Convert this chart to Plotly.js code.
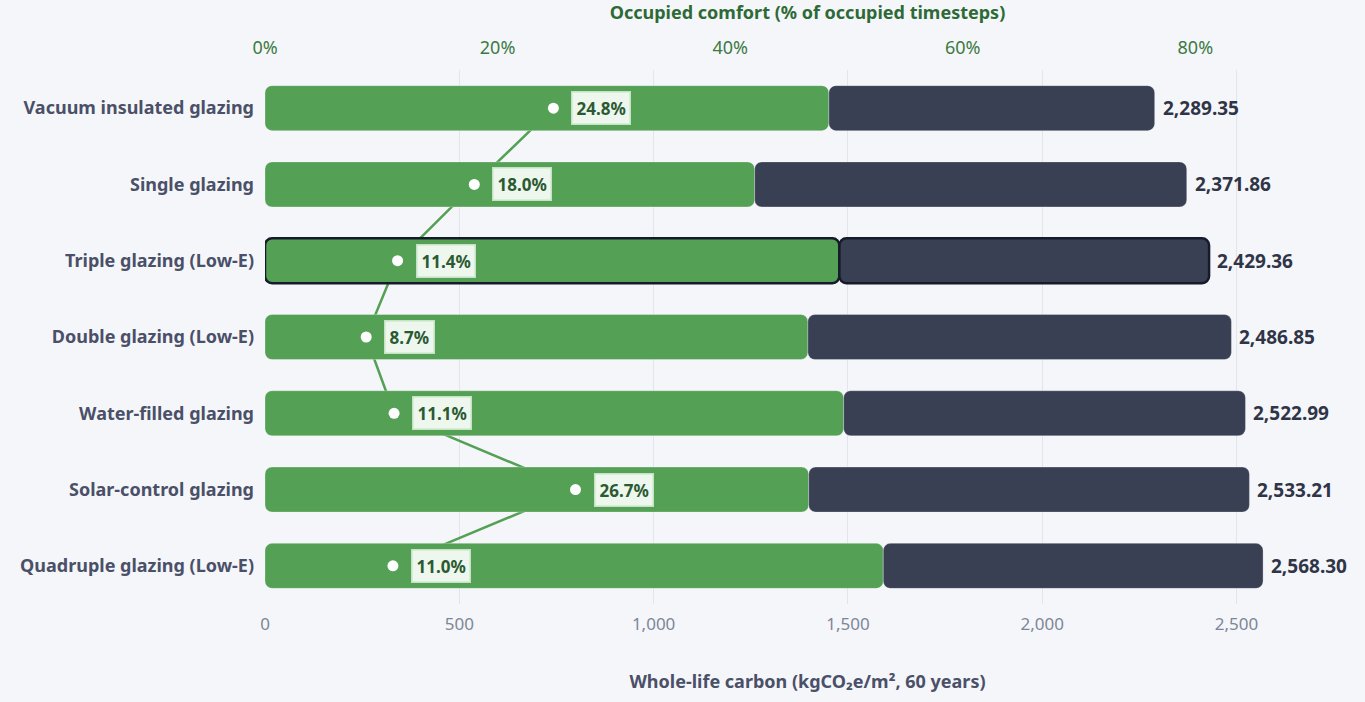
<!DOCTYPE html>
<html>
<head>
<meta charset="utf-8">
<script src="https://cdn.plot.ly/plotly-3.0.1.min.js"></script>
<style>
  html, body { margin: 0; padding: 0; background: #f5f6fa; }
  #chart { width: 1365px; height: 702px; }
</style>
</head>
<body>
<div id="chart"></div>
<script>
// Glazing options, ordered by whole-life carbon
const glazing = [
  'Vacuum insulated glazing',
  'Single glazing',
  'Triple glazing (Low-E)',
  'Double glazing (Low-E)',
  'Water-filled glazing',
  'Solar-control glazing',
  'Quadruple glazing (Low-E)'
];
// Embodied share of whole-life carbon (kgCO2e/m², 60 years)
const embodiedCarbon = [1451, 1260, 1478, 1397, 1489, 1399, 1591];
// Whole-life carbon totals (kgCO2e/m², 60 years)
const wholeLifeCarbon = [2289.35, 2371.86, 2429.36, 2486.85, 2522.99, 2533.21, 2568.30];
// Occupied comfort (% of occupied timesteps)
const comfortPct = [24.8, 18.0, 11.4, 8.7, 11.1, 26.7, 11.0];
// Option singled out with an outline
const highlighted = 'Triple glazing (Low-E)';

const GREEN = '#54a055';
const NAVY = '#394054';
const FONT = 'Noto Sans, Open Sans, sans-serif';

const operationalCarbon = wholeLifeCarbon.map((t, i) => t - embodiedCarbon[i]);
const edgeWidth = glazing.map(g => g === highlighted ? 2.5 : 0.8);
const edgeColor = glazing.map(g => g === highlighted ? '#161b2a' : 'rgba(255,255,255,0.35)');

const traces = [
  // comfort line sits beneath the bars
  {
    type: 'scatter', mode: 'lines',
    x: comfortPct, y: glazing, xaxis: 'x', yaxis: 'y',
    line: { color: GREEN, width: 2.5 },
    hoverinfo: 'skip', showlegend: false
  },
  // embodied segment, drawn back toward zero so its rounded end is at the axis
  {
    type: 'bar', orientation: 'h',
    x: embodiedCarbon.map(v => -v), base: embodiedCarbon, y: glazing,
    xaxis: 'x2', yaxis: 'y',
    marker: { color: GREEN, line: { width: edgeWidth, color: edgeColor } },
    customdata: embodiedCarbon,
    hovertemplate: '%{y}<br>Embodied: %{customdata:,.0f}<extra></extra>',
    showlegend: false
  },
  // operational segment
  {
    type: 'bar', orientation: 'h',
    x: operationalCarbon, base: embodiedCarbon, y: glazing,
    xaxis: 'x2', yaxis: 'y',
    marker: { color: NAVY, line: { width: edgeWidth, color: edgeColor } },
    hovertemplate: '%{y}<br>Operational: %{x:,.0f}<extra></extra>',
    showlegend: false
  },
  // comfort points over the bars
  {
    type: 'scatter', mode: 'markers',
    x: comfortPct, y: glazing, xaxis: 'x3', yaxis: 'y',
    marker: { color: '#ffffff', size: 11 },
    hovertemplate: '%{y}<br>Comfort: %{x:.1f}%<extra></extra>',
    showlegend: false
  }
];

const annotations = [];
glazing.forEach((g, i) => {
  annotations.push({
    x: wholeLifeCarbon[i], y: g, xref: 'x2', yref: 'y',
    xanchor: 'left', yanchor: 'middle', xshift: 6,
    text: wholeLifeCarbon[i].toLocaleString('en-US', { minimumFractionDigits: 2, maximumFractionDigits: 2 }),
    showarrow: false,
    font: { family: FONT, size: 19, color: '#2f3547', weight: 700 }
  });
  annotations.push({
    x: comfortPct[i], y: g, xref: 'x3', yref: 'y',
    xanchor: 'left', yanchor: 'middle', xshift: 18,
    text: comfortPct[i].toFixed(1) + '%',
    showarrow: false,
    bgcolor: '#eef7ee', bordercolor: '#c4e3c4', borderwidth: 1.5, borderpad: 4,
    font: { family: FONT, size: 17, color: '#2b5a32', weight: 700 }
  });
});

const carbonMax = 2792;
const comfortMax = 93.3;

const layout = {
  width: 1365, height: 702,
  paper_bgcolor: '#f5f6fa', plot_bgcolor: '#f5f6fa',
  margin: { l: 265, r: 15, t: 70, b: 98 },
  font: { family: FONT },
  barmode: 'overlay', bargap: 0.41, barcornerradius: 7,
  showlegend: false,
  xaxis: {
    side: 'top', range: [0, comfortMax], dtick: 20, ticksuffix: '%',
    showgrid: false, zeroline: false, showline: false, ticks: '',
    ticklabelstandoff: 11, automargin: false,
    tickfont: { family: FONT, size: 18, color: '#3c7a43' },
    title: { text: 'Occupied comfort (% of occupied timesteps)', standoff: 17,
             font: { family: FONT, size: 18, color: '#2d6a36', weight: 700 } }
  },
  xaxis2: {
    overlaying: 'x', side: 'bottom', range: [0, carbonMax], dtick: 500,
    tickformat: ',', showgrid: true, gridcolor: '#e3e5ec', gridwidth: 1,
    zeroline: false, showline: false, ticks: '', ticklabelstandoff: 8,
    automargin: false,
    tickfont: { family: FONT, size: 17, color: '#7d8699' },
    title: { text: 'Whole-life carbon (kgCO₂e/m², 60 years)', standoff: 41,
             font: { family: FONT, size: 18, color: '#4a5068', weight: 700 } }
  },
  xaxis3: {
    overlaying: 'x', range: [0, comfortMax], visible: false
  },
  yaxis: {
    autorange: 'reversed', showgrid: false, zeroline: false, showline: false,
    ticks: '', ticklabelstandoff: 10, automargin: false,
    tickfont: { family: FONT, size: 18, color: '#4a5068', weight: 700 }
  },
  annotations: annotations
};

Plotly.newPlot('chart', traces, layout, { displayModeBar: false });
</script>
</body>
</html>
